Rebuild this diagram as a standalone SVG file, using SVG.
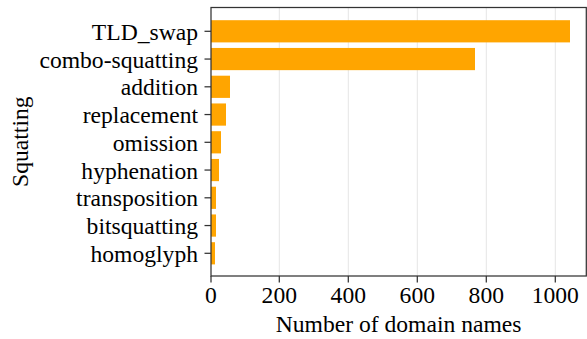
<svg xmlns="http://www.w3.org/2000/svg" width="587" height="339" viewBox="0 0 587 339">
  <style>
    .grid { stroke: #e5e5e5; stroke-width: 1; }
    .bar { fill: #ffa500; }
    .spine { stroke: #333333; stroke-width: 1.25; fill: none; }
    .tick { stroke: #333333; stroke-width: 1.25; }
    text { font-family: "Liberation Serif", "Times New Roman", serif; font-size: 23.6px; fill: #000000; }
    .ylab { text-anchor: end; }
    .xlab { text-anchor: middle; }
  </style>
  <rect width="587" height="339" fill="#ffffff"/>

  <!-- vertical grid lines at 200, 400, 600, 800, 1000 -->
  <g id="grid">
    <line class="grid" x1="279.3" y1="7.5" x2="279.3" y2="276"/>
    <line class="grid" x1="348.3" y1="7.5" x2="348.3" y2="276"/>
    <line class="grid" x1="417.3" y1="7.5" x2="417.3" y2="276"/>
    <line class="grid" x1="486.3" y1="7.5" x2="486.3" y2="276"/>
    <line class="grid" x1="555.3" y1="7.5" x2="555.3" y2="276"/>
  </g>

  <!-- horizontal bars, one per squatting type -->
  <g id="bars">
    <rect id="bar-tld-swap" class="bar" x="211" y="20.2" width="359" height="22.2"/>
    <rect id="bar-combo-squatting" class="bar" x="211" y="47.95" width="264" height="22.2"/>
    <rect id="bar-addition" class="bar" x="211" y="75.7" width="19" height="22.2"/>
    <rect id="bar-replacement" class="bar" x="211" y="103.45" width="15" height="22.2"/>
    <rect id="bar-omission" class="bar" x="211" y="131.2" width="10" height="22.2"/>
    <rect id="bar-hyphenation" class="bar" x="211" y="158.95" width="8" height="22.2"/>
    <rect id="bar-transposition" class="bar" x="211" y="186.7" width="5" height="22.2"/>
    <rect id="bar-bitsquatting" class="bar" x="211" y="214.45" width="5" height="22.2"/>
    <rect id="bar-homoglyph" class="bar" x="211" y="242.2" width="4" height="22.2"/>
  </g>

  <!-- axes frame -->
  <rect id="frame" class="spine" x="211" y="7.5" width="375.3" height="268.5"/>

  <!-- y axis ticks and category labels -->
  <g id="y-axis">
    <line class="tick" x1="204.5" y1="31.3" x2="211" y2="31.3"/>
    <line class="tick" x1="204.5" y1="59.05" x2="211" y2="59.05"/>
    <line class="tick" x1="204.5" y1="86.8" x2="211" y2="86.8"/>
    <line class="tick" x1="204.5" y1="114.55" x2="211" y2="114.55"/>
    <line class="tick" x1="204.5" y1="142.3" x2="211" y2="142.3"/>
    <line class="tick" x1="204.5" y1="170.05" x2="211" y2="170.05"/>
    <line class="tick" x1="204.5" y1="197.8" x2="211" y2="197.8"/>
    <line class="tick" x1="204.5" y1="225.55" x2="211" y2="225.55"/>
    <line class="tick" x1="204.5" y1="253.3" x2="211" y2="253.3"/>
    <text class="ylab" x="198" y="39.8">TLD_swap</text>
    <text class="ylab" x="198" y="67.55">combo-squatting</text>
    <text class="ylab" x="198" y="95.3">addition</text>
    <text class="ylab" x="198" y="123.05">replacement</text>
    <text class="ylab" x="198" y="150.8">omission</text>
    <text class="ylab" x="198" y="178.55">hyphenation</text>
    <text class="ylab" x="198" y="206.3">transposition</text>
    <text class="ylab" x="198" y="234.05">bitsquatting</text>
    <text class="ylab" x="198" y="261.8">homoglyph</text>
    <text class="xlab" transform="translate(28,141.7) rotate(-90)">Squatting</text>
  </g>

  <!-- x axis ticks and value labels -->
  <g id="x-axis">
    <line class="tick" x1="211" y1="276" x2="211" y2="282.5"/>
    <line class="tick" x1="279.3" y1="276" x2="279.3" y2="282.5"/>
    <line class="tick" x1="348.3" y1="276" x2="348.3" y2="282.5"/>
    <line class="tick" x1="417.3" y1="276" x2="417.3" y2="282.5"/>
    <line class="tick" x1="486.3" y1="276" x2="486.3" y2="282.5"/>
    <line class="tick" x1="555.3" y1="276" x2="555.3" y2="282.5"/>
    <text class="xlab" x="211" y="303">0</text>
    <text class="xlab" x="279.3" y="303">200</text>
    <text class="xlab" x="348.3" y="303">400</text>
    <text class="xlab" x="417.3" y="303">600</text>
    <text class="xlab" x="486.3" y="303">800</text>
    <text class="xlab" x="555.3" y="303">1000</text>
    <text class="xlab" x="398.6" y="332">Number of domain names</text>
  </g>
</svg>
